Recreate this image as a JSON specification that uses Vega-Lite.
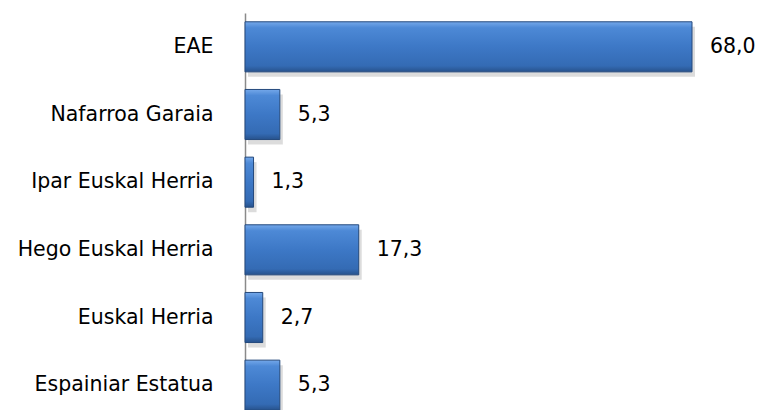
{
  "$schema": "https://vega.github.io/schema/vega-lite/v6.json",
  "autosize": "none",
  "width": 447,
  "height": 406,
  "padding": {"left": 245, "top": 13, "right": 68, "bottom": 0},
  "background": "white",
  "config": {
    "view": {"stroke": null},
    "locale": {"number": {"decimal": ",", "thousands": ".", "grouping": [3], "currency": ["", " €"]}}
  },
  "data": {
    "values": [
      {"lurraldea": "EAE", "balioa": 68.0},
      {"lurraldea": "Nafarroa Garaia", "balioa": 5.3},
      {"lurraldea": "Ipar Euskal Herria", "balioa": 1.3},
      {"lurraldea": "Hego Euskal Herria", "balioa": 17.3},
      {"lurraldea": "Euskal Herria\u00a0", "balioa": 2.7},
      {"lurraldea": "Espainiar Estatua", "balioa": 5.3}
    ]
  },
  "encoding": {
    "y": {
      "field": "lurraldea", "type": "nominal", "sort": null,
      "scale": {"paddingInner": 0.26, "paddingOuter": 0.13},
      "axis": {
        "title": null, "ticks": false, "domain": true, "domainColor": "#8a8a8a", "domainWidth": 1.5,
        "labelFont": "DejaVu Sans", "labelFontSize": 20.5, "labelColor": "#000000", "labelPadding": 32,
        "labelLimit": 400
      }
    },
    "x": {
      "field": "balioa", "type": "quantitative",
      "scale": {"domain": [0, 68], "nice": false},
      "axis": null
    }
  },
  "layer": [
    {
      "mark": {"type": "bar", "fill": "#9a9a9a", "opacity": 0.35, "xOffset": 3, "yOffset": 5}
    },
    {
      "mark": {
        "type": "bar",
        "stroke": "#24497c", "strokeWidth": 1,
        "fill": {
          "gradient": "linear", "x1": 0, "y1": 0, "x2": 0, "y2": 1,
          "stops": [
            {"offset": 0, "color": "#74a8ea"},
            {"offset": 0.12, "color": "#4d89d6"},
            {"offset": 0.5, "color": "#3d78c6"},
            {"offset": 0.88, "color": "#346bb4"},
            {"offset": 1, "color": "#27528c"}
          ]
        }
      }
    },
    {
      "mark": {"type": "text", "align": "left", "baseline": "middle", "dx": 18, "font": "DejaVu Sans", "fontSize": 20.5, "color": "#000000"},
      "encoding": {"text": {"field": "balioa", "type": "quantitative", "format": ".1f"}}
    }
  ]
}
